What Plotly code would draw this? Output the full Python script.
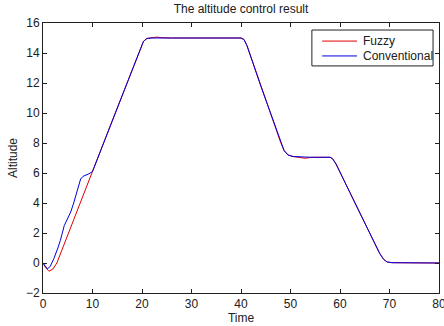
import plotly.graph_objects as go

# Fuzzy controller response
fuzzy_t = [0, 0.5, 1.2, 2, 2.8, 4, 6, 8, 10, 12, 14, 16, 18, 19.5, 20.3, 21, 22, 23, 24, 26,
           40, 40.6, 41.2, 44, 47, 48, 48.7, 49.5, 50.5, 52, 53, 54, 58, 58.5, 59.2,
           62, 66, 68, 68.8, 69.5, 70.5, 80]
fuzzy_y = [0, -0.3, -0.55, -0.4, 0.0, 1.0, 2.7, 4.4, 6.1, 7.8, 9.5, 11.2, 12.9, 14.15, 14.78, 14.97, 15.0, 15.06, 15.02, 15.0,
           15.0, 14.9, 14.5, 11.8, 9.0, 8.05, 7.5, 7.2, 7.1, 7.03, 6.98, 7.04, 7.05, 6.95, 6.6,
           4.7, 2.0, 0.65, 0.25, 0.07, 0.02, 0.0]

# Conventional controller response
conv_t = [0, 0.4, 0.9, 1.5, 2.2, 3, 3.5, 4.3, 5, 5.6, 6.2, 7, 7.6, 8.1, 8.7, 9.3, 10, 12, 14, 16, 18, 19.5, 20.3, 21, 22, 26,
          40, 40.6, 41.2, 44, 47, 48, 48.7, 49.5, 50.5, 54, 58, 58.5, 59.2,
          62, 66, 68, 68.8, 69.5, 70.5, 80]
conv_y = [0, -0.2, -0.4, -0.2, 0.3, 1.0, 1.5, 2.5, 3.0, 3.4, 4.0, 5.0, 5.6, 5.78, 5.85, 5.95, 6.1, 7.8, 9.5, 11.2, 12.9, 14.15, 14.78, 14.97, 15.0, 15.0,
          15.0, 14.9, 14.5, 11.8, 9.0, 8.05, 7.5, 7.2, 7.1, 7.05, 7.05, 6.95, 6.6,
          4.7, 2.0, 0.65, 0.25, 0.07, 0.02, 0.0]

series_names = ["Fuzzy", "Conventional"]
series_colors = ["#e00000", "#0000e0"]

x_ticks = [0, 10, 20, 30, 40, 50, 60, 70, 80]
y_ticks = [-2, 0, 2, 4, 6, 8, 10, 12, 14, 16]

FONT = "Liberation Sans, Arial, sans-serif"
TXT = "#202020"

fig = go.Figure()
fig.add_trace(go.Scatter(x=fuzzy_t, y=fuzzy_y, mode="lines", name=series_names[0],
                         line=dict(color=series_colors[0], width=1), showlegend=False))
fig.add_trace(go.Scatter(x=conv_t, y=conv_y, mode="lines", name=series_names[1],
                         line=dict(color=series_colors[1], width=1), showlegend=False))

axis_common = dict(showgrid=False, zeroline=False, showline=True, linecolor=TXT,
                   linewidth=1, mirror="allticks", ticks="inside", ticklen=4,
                   tickcolor=TXT, automargin=False, ticklabeloverflow="allow",
                   tickfont=dict(family=FONT, size=12, color=TXT))

# legend box drawn in paper coordinates (MATLAB-style compact legend)
fig.add_shape(type="rect", xref="paper", yref="paper", x0=0.679, x1=0.985, y0=0.841, y1=0.974,
              line=dict(color=TXT, width=1), fillcolor="white", layer="above")
leg_y = [0.933, 0.878]
for name, col, ly in zip(series_names, series_colors, leg_y):
    fig.add_shape(type="line", xref="paper", yref="paper", x0=0.705, x1=0.793, y0=ly, y1=ly,
                  line=dict(color=col, width=1), layer="above")
    fig.add_annotation(text=name, xref="paper", yref="paper", x=0.803, y=ly, xanchor="left",
                       yanchor="middle", showarrow=False,
                       font=dict(family=FONT, size=12, color=TXT))

fig.update_layout(
    width=444, height=326,
    margin=dict(l=43, r=5, t=23, b=33),
    paper_bgcolor="white", plot_bgcolor="white",
    title=dict(text="The altitude control result", x=0.5, xanchor="center", xref="paper",
               yref="container", y=0.985, yanchor="top",
               font=dict(family=FONT, size=12, color=TXT)),
    xaxis=dict(range=[0, 80], tickvals=x_ticks,
               title=dict(text="Time", standoff=2, font=dict(family=FONT, size=12, color=TXT)),
               **axis_common),
    yaxis=dict(range=[-2, 16], tickvals=y_ticks,
               title=dict(text="Altitude", standoff=5, font=dict(family=FONT, size=12, color=TXT)),
               **axis_common),
    showlegend=False,
)

fig.write_html("out.html", config={"displayModeBar": False},
               post_script="document.body.style.margin='0';document.body.style.overflow='hidden';")
